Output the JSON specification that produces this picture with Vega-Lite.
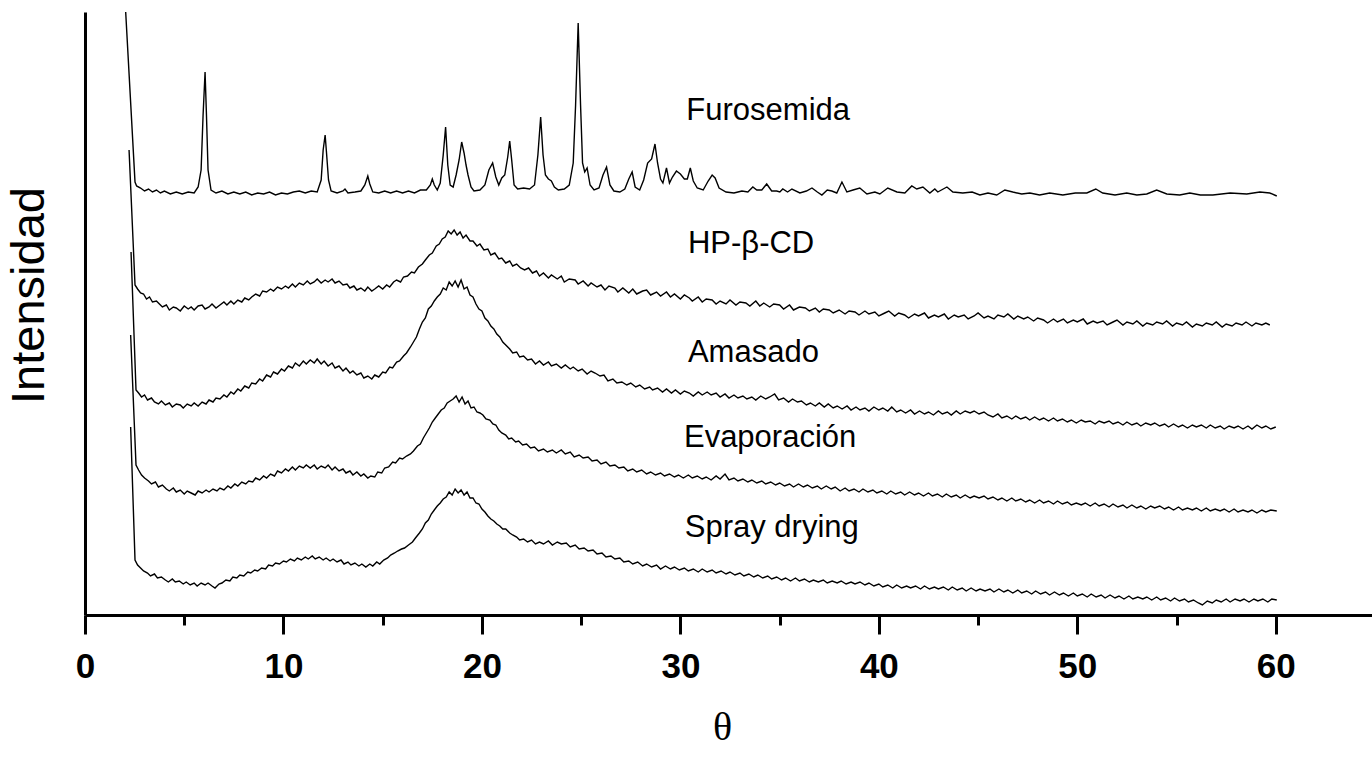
{
"$schema": "https://vega.github.io/schema/vega-lite/v6.json",
"width": 1290, "height": 603,
"autosize": {"type": "none"},
"padding": {"left": 85, "top": 12, "right": 0, "bottom": 151},
"config": {"view": {"stroke": null}, "axis": {"grid": false}},
"datasets": {
"labels": [
{"label":"Furosemida","x":30.3,"y":495},
{"label":"HP-β-CD","x":30.38,"y":362},
{"label":"Amasado","x":30.38,"y":253},
{"label":"Evaporación","x":30.18,"y":168},
{"label":"Spray drying","x":30.22,"y":78}
],
"traces": [
{"s":"F","x":2.0,"y":621},{"s":"F","x":2.52,"y":433},{"s":"F","x":2.6,"y":429},{"s":"F","x":2.8,"y":427},{"s":"F","x":3.0,"y":424},{"s":"F","x":3.2,"y":426},{"s":"F","x":3.4,"y":423},{"s":"F","x":3.6,"y":425},{"s":"F","x":3.8,"y":422},{"s":"F","x":4.0,"y":424},{"s":"F","x":4.3,"y":421},{"s":"F","x":4.6,"y":423},{"s":"F","x":4.9,"y":421},{"s":"F","x":5.2,"y":423},{"s":"F","x":5.5,"y":422},{"s":"F","x":5.7,"y":428},{"s":"F","x":5.85,"y":445},{"s":"F","x":5.95,"y":500},{"s":"F","x":6.05,"y":543},{"s":"F","x":6.12,"y":500},{"s":"F","x":6.2,"y":445},{"s":"F","x":6.35,"y":425},{"s":"F","x":6.6,"y":422},{"s":"F","x":6.9,"y":424},{"s":"F","x":7.2,"y":421},{"s":"F","x":7.5,"y":423},{"s":"F","x":7.8,"y":421},{"s":"F","x":8.1,"y":423},{"s":"F","x":8.4,"y":420},{"s":"F","x":8.7,"y":422},{"s":"F","x":9.0,"y":421},{"s":"F","x":9.3,"y":423},{"s":"F","x":9.6,"y":420},{"s":"F","x":9.9,"y":422},{"s":"F","x":10.2,"y":421},{"s":"F","x":10.5,"y":423},{"s":"F","x":10.8,"y":424},{"s":"F","x":11.1,"y":422},{"s":"F","x":11.4,"y":424},{"s":"F","x":11.7,"y":423},{"s":"F","x":11.9,"y":435},{"s":"F","x":12.0,"y":465},{"s":"F","x":12.1,"y":480},{"s":"F","x":12.17,"y":462},{"s":"F","x":12.27,"y":435},{"s":"F","x":12.4,"y":424},{"s":"F","x":12.7,"y":422},{"s":"F","x":13.0,"y":424},{"s":"F","x":13.1,"y":426},{"s":"F","x":13.25,"y":422},{"s":"F","x":13.6,"y":423},{"s":"F","x":13.9,"y":424},{"s":"F","x":14.1,"y":430},{"s":"F","x":14.25,"y":439},{"s":"F","x":14.35,"y":431},{"s":"F","x":14.5,"y":423},{"s":"F","x":14.8,"y":422},{"s":"F","x":15.1,"y":424},{"s":"F","x":15.4,"y":422},{"s":"F","x":15.7,"y":424},{"s":"F","x":16.0,"y":422},{"s":"F","x":16.3,"y":424},{"s":"F","x":16.6,"y":422},{"s":"F","x":16.9,"y":425},{"s":"F","x":17.2,"y":425},{"s":"F","x":17.4,"y":430},{"s":"F","x":17.5,"y":436},{"s":"F","x":17.6,"y":430},{"s":"F","x":17.75,"y":425},{"s":"F","x":17.9,"y":432},{"s":"F","x":18.05,"y":460},{"s":"F","x":18.17,"y":488},{"s":"F","x":18.28,"y":450},{"s":"F","x":18.4,"y":430},{"s":"F","x":18.55,"y":428},{"s":"F","x":18.7,"y":440},{"s":"F","x":18.85,"y":455},{"s":"F","x":18.98,"y":473},{"s":"F","x":19.1,"y":462},{"s":"F","x":19.2,"y":450},{"s":"F","x":19.3,"y":440},{"s":"F","x":19.45,"y":428},{"s":"F","x":19.6,"y":424},{"s":"F","x":19.9,"y":425},{"s":"F","x":20.15,"y":430},{"s":"F","x":20.35,"y":445},{"s":"F","x":20.54,"y":452},{"s":"F","x":20.7,"y":438},{"s":"F","x":20.85,"y":430},{"s":"F","x":21.0,"y":437},{"s":"F","x":21.15,"y":440},{"s":"F","x":21.3,"y":458},{"s":"F","x":21.4,"y":474},{"s":"F","x":21.5,"y":455},{"s":"F","x":21.62,"y":430},{"s":"F","x":21.8,"y":426},{"s":"F","x":22.1,"y":427},{"s":"F","x":22.4,"y":426},{"s":"F","x":22.65,"y":430},{"s":"F","x":22.82,"y":460},{"s":"F","x":22.96,"y":498},{"s":"F","x":23.08,"y":460},{"s":"F","x":23.2,"y":440},{"s":"F","x":23.35,"y":436},{"s":"F","x":23.5,"y":434},{"s":"F","x":23.65,"y":428},{"s":"F","x":23.85,"y":425},{"s":"F","x":24.15,"y":426},{"s":"F","x":24.4,"y":430},{"s":"F","x":24.6,"y":452},{"s":"F","x":24.72,"y":510},{"s":"F","x":24.85,"y":592},{"s":"F","x":24.97,"y":510},{"s":"F","x":25.07,"y":452},{"s":"F","x":25.18,"y":443},{"s":"F","x":25.3,"y":447},{"s":"F","x":25.45,"y":430},{"s":"F","x":25.65,"y":425},{"s":"F","x":25.9,"y":427},{"s":"F","x":26.1,"y":440},{"s":"F","x":26.28,"y":448},{"s":"F","x":26.45,"y":430},{"s":"F","x":26.65,"y":424},{"s":"F","x":26.95,"y":423},{"s":"F","x":27.2,"y":426},{"s":"F","x":27.4,"y":436},{"s":"F","x":27.57,"y":443},{"s":"F","x":27.72,"y":428},{"s":"F","x":27.95,"y":425},{"s":"F","x":28.15,"y":435},{"s":"F","x":28.35,"y":452},{"s":"F","x":28.55,"y":456},{"s":"F","x":28.72,"y":471},{"s":"F","x":28.85,"y":452},{"s":"F","x":29.0,"y":436},{"s":"F","x":29.12,"y":432},{"s":"F","x":29.3,"y":447},{"s":"F","x":29.45,"y":432},{"s":"F","x":29.6,"y":438},{"s":"F","x":29.8,"y":444},{"s":"F","x":30.0,"y":441},{"s":"F","x":30.2,"y":436},{"s":"F","x":30.35,"y":436},{"s":"F","x":30.5,"y":447},{"s":"F","x":30.65,"y":434},{"s":"F","x":30.85,"y":427},{"s":"F","x":31.15,"y":425},{"s":"F","x":31.4,"y":434},{"s":"F","x":31.6,"y":440},{"s":"F","x":31.75,"y":437},{"s":"F","x":31.95,"y":427},{"s":"F","x":32.3,"y":423},{"s":"F","x":32.7,"y":422},{"s":"F","x":33.1,"y":424},{"s":"F","x":33.4,"y":423},{"s":"F","x":33.65,"y":428},{"s":"F","x":33.85,"y":425},{"s":"F","x":34.1,"y":425},{"s":"F","x":34.35,"y":431},{"s":"F","x":34.6,"y":424},{"s":"F","x":34.85,"y":424},{"s":"F","x":35.01,"y":423},{"s":"F","x":35.16,"y":426},{"s":"F","x":35.4,"y":423},{"s":"F","x":35.62,"y":426},{"s":"F","x":36.02,"y":422},{"s":"F","x":36.35,"y":424},{"s":"F","x":36.63,"y":427},{"s":"F","x":36.9,"y":423},{"s":"F","x":37.13,"y":420},{"s":"F","x":37.4,"y":425},{"s":"F","x":37.63,"y":424},{"s":"F","x":37.88,"y":422},{"s":"F","x":38.14,"y":433},{"s":"F","x":38.39,"y":423},{"s":"F","x":38.7,"y":425},{"s":"F","x":39.04,"y":427},{"s":"F","x":39.4,"y":421},{"s":"F","x":39.8,"y":423},{"s":"F","x":40.05,"y":421},{"s":"F","x":40.45,"y":427},{"s":"F","x":40.91,"y":423},{"s":"F","x":41.31,"y":422},{"s":"F","x":41.66,"y":429},{"s":"F","x":41.91,"y":426},{"s":"F","x":42.22,"y":428},{"s":"F","x":42.57,"y":422},{"s":"F","x":42.82,"y":426},{"s":"F","x":42.97,"y":423},{"s":"F","x":43.43,"y":428},{"s":"F","x":43.73,"y":423},{"s":"F","x":44.23,"y":422},{"s":"F","x":44.7,"y":423},{"s":"F","x":45.09,"y":420},{"s":"F","x":45.5,"y":422},{"s":"F","x":45.94,"y":420},{"s":"F","x":46.35,"y":425},{"s":"F","x":46.75,"y":423},{"s":"F","x":47.2,"y":421},{"s":"F","x":47.61,"y":422},{"s":"F","x":48.1,"y":420},{"s":"F","x":48.61,"y":422},{"s":"F","x":49.27,"y":420},{"s":"F","x":49.9,"y":422},{"s":"F","x":50.48,"y":422},{"s":"F","x":50.93,"y":426},{"s":"F","x":51.28,"y":422},{"s":"F","x":51.9,"y":420},{"s":"F","x":52.49,"y":422},{"s":"F","x":53.0,"y":420},{"s":"F","x":53.5,"y":421},{"s":"F","x":54.0,"y":425},{"s":"F","x":54.51,"y":421},{"s":"F","x":55.16,"y":420},{"s":"F","x":55.67,"y":422},{"s":"F","x":56.2,"y":420},{"s":"F","x":56.83,"y":420},{"s":"F","x":57.7,"y":422},{"s":"F","x":58.54,"y":421},{"s":"F","x":59.2,"y":423},{"s":"F","x":59.7,"y":422},{"s":"F","x":60.05,"y":419},
{"s":"H","x":2.22,"y":465},{"s":"H","x":2.52,"y":330},{"s":"H","x":2.65,"y":326},{"s":"H","x":2.8,"y":322},{"s":"H","x":2.95,"y":321},{"s":"H","x":3.1,"y":316},{"s":"H","x":3.25,"y":318},{"s":"H","x":3.4,"y":313},{"s":"H","x":3.6,"y":314},{"s":"H","x":3.75,"y":311},{"s":"H","x":3.9,"y":308},{"s":"H","x":4.1,"y":310},{"s":"H","x":4.25,"y":305},{"s":"H","x":4.45,"y":308},{"s":"H","x":4.6,"y":307},{"s":"H","x":4.8,"y":304},{"s":"H","x":5.0,"y":309},{"s":"H","x":5.2,"y":306},{"s":"H","x":5.35,"y":308},{"s":"H","x":5.5,"y":305},{"s":"H","x":5.7,"y":309},{"s":"H","x":5.9,"y":310},{"s":"H","x":6.05,"y":306},{"s":"H","x":6.25,"y":308},{"s":"H","x":6.4,"y":311},{"s":"H","x":6.6,"y":307},{"s":"H","x":6.8,"y":310},{"s":"H","x":7.0,"y":313},{"s":"H","x":7.15,"y":310},{"s":"H","x":7.35,"y":314},{"s":"H","x":7.5,"y":311},{"s":"H","x":7.7,"y":315},{"s":"H","x":7.9,"y":313},{"s":"H","x":8.05,"y":317},{"s":"H","x":8.25,"y":315},{"s":"H","x":8.4,"y":318},{"s":"H","x":8.6,"y":321},{"s":"H","x":8.8,"y":319},{"s":"H","x":8.95,"y":324},{"s":"H","x":9.15,"y":323},{"s":"H","x":9.35,"y":326},{"s":"H","x":9.5,"y":324},{"s":"H","x":9.7,"y":328},{"s":"H","x":9.9,"y":326},{"s":"H","x":10.1,"y":329},{"s":"H","x":10.25,"y":327},{"s":"H","x":10.45,"y":331},{"s":"H","x":10.6,"y":328},{"s":"H","x":10.8,"y":332},{"s":"H","x":11.0,"y":330},{"s":"H","x":11.2,"y":334},{"s":"H","x":11.35,"y":331},{"s":"H","x":11.55,"y":333},{"s":"H","x":11.7,"y":336},{"s":"H","x":11.9,"y":332},{"s":"H","x":12.1,"y":335},{"s":"H","x":12.25,"y":333},{"s":"H","x":12.45,"y":336},{"s":"H","x":12.6,"y":332},{"s":"H","x":12.8,"y":334},{"s":"H","x":13.0,"y":330},{"s":"H","x":13.2,"y":331},{"s":"H","x":13.35,"y":327},{"s":"H","x":13.55,"y":329},{"s":"H","x":13.7,"y":325},{"s":"H","x":13.9,"y":327},{"s":"H","x":14.1,"y":324},{"s":"H","x":14.25,"y":328},{"s":"H","x":14.45,"y":324},{"s":"H","x":14.6,"y":326},{"s":"H","x":14.8,"y":329},{"s":"H","x":15.0,"y":326},{"s":"H","x":15.2,"y":330},{"s":"H","x":15.35,"y":328},{"s":"H","x":15.55,"y":333},{"s":"H","x":15.7,"y":335},{"s":"H","x":15.9,"y":333},{"s":"H","x":16.05,"y":338},{"s":"H","x":16.25,"y":339},{"s":"H","x":16.45,"y":343},{"s":"H","x":16.6,"y":342},{"s":"H","x":16.8,"y":348},{"s":"H","x":17.0,"y":351},{"s":"H","x":17.15,"y":355},{"s":"H","x":17.35,"y":360},{"s":"H","x":17.5,"y":362},{"s":"H","x":17.7,"y":369},{"s":"H","x":17.85,"y":371},{"s":"H","x":18.0,"y":376},{"s":"H","x":18.15,"y":378},{"s":"H","x":18.3,"y":384},{"s":"H","x":18.45,"y":381},{"s":"H","x":18.6,"y":385},{"s":"H","x":18.75,"y":380},{"s":"H","x":18.9,"y":383},{"s":"H","x":19.05,"y":377},{"s":"H","x":19.2,"y":380},{"s":"H","x":19.4,"y":374},{"s":"H","x":19.55,"y":374},{"s":"H","x":19.75,"y":369},{"s":"H","x":19.9,"y":371},{"s":"H","x":20.1,"y":365},{"s":"H","x":20.3,"y":366},{"s":"H","x":20.45,"y":360},{"s":"H","x":20.65,"y":362},{"s":"H","x":20.85,"y":356},{"s":"H","x":21.0,"y":357},{"s":"H","x":21.2,"y":352},{"s":"H","x":21.4,"y":354},{"s":"H","x":21.55,"y":349},{"s":"H","x":21.75,"y":351},{"s":"H","x":21.95,"y":347},{"s":"H","x":22.15,"y":345},{"s":"H","x":22.35,"y":347},{"s":"H","x":22.55,"y":342},{"s":"H","x":22.75,"y":344},{"s":"H","x":22.9,"y":339},{"s":"H","x":23.1,"y":342},{"s":"H","x":23.35,"y":337},{"s":"H","x":23.5,"y":340},{"s":"H","x":23.8,"y":336},{"s":"H","x":24.0,"y":339},{"s":"H","x":24.15,"y":333},{"s":"H","x":24.4,"y":336},{"s":"H","x":24.7,"y":335},{"s":"H","x":24.85,"y":331},{"s":"H","x":25.1,"y":334},{"s":"H","x":25.35,"y":329},{"s":"H","x":25.5,"y":332},{"s":"H","x":25.8,"y":328},{"s":"H","x":26.0,"y":330},{"s":"H","x":26.2,"y":325},{"s":"H","x":26.4,"y":329},{"s":"H","x":26.7,"y":327},{"s":"H","x":26.85,"y":323},{"s":"H","x":27.1,"y":327},{"s":"H","x":27.4,"y":322},{"s":"H","x":27.6,"y":326},{"s":"H","x":27.8,"y":321},{"s":"H","x":28.1,"y":324},{"s":"H","x":28.3,"y":325},{"s":"H","x":28.5,"y":320},{"s":"H","x":28.8,"y":323},{"s":"H","x":29.0,"y":319},{"s":"H","x":29.3,"y":323},{"s":"H","x":29.5,"y":318},{"s":"H","x":29.7,"y":321},{"s":"H","x":30.0,"y":316},{"s":"H","x":30.2,"y":320},{"s":"H","x":30.45,"y":317},{"s":"H","x":30.6,"y":314},{"s":"H","x":30.9,"y":318},{"s":"H","x":31.1,"y":313},{"s":"H","x":31.3,"y":316},{"s":"H","x":31.6,"y":315},{"s":"H","x":31.8,"y":311},{"s":"H","x":32.0,"y":314},{"s":"H","x":32.3,"y":311},{"s":"H","x":32.5,"y":315},{"s":"H","x":32.8,"y":310},{"s":"H","x":33.0,"y":313},{"s":"H","x":33.3,"y":312},{"s":"H","x":33.5,"y":309},{"s":"H","x":33.8,"y":314},{"s":"H","x":34.0,"y":309},{"s":"H","x":34.2,"y":312},{"s":"H","x":34.5,"y":308},{"s":"H","x":34.7,"y":311},{"s":"H","x":35.0,"y":310},{"s":"H","x":35.2,"y":306},{"s":"H","x":35.5,"y":310},{"s":"H","x":35.7,"y":305},{"s":"H","x":36.0,"y":308},{"s":"H","x":36.3,"y":307},{"s":"H","x":36.5,"y":304},{"s":"H","x":36.8,"y":307},{"s":"H","x":37.0,"y":303},{"s":"H","x":37.2,"y":306},{"s":"H","x":37.5,"y":305},{"s":"H","x":37.7,"y":302},{"s":"H","x":38.0,"y":305},{"s":"H","x":38.3,"y":301},{"s":"H","x":38.5,"y":304},{"s":"H","x":38.8,"y":303},{"s":"H","x":39.0,"y":300},{"s":"H","x":39.3,"y":304},{"s":"H","x":39.5,"y":301},{"s":"H","x":39.8,"y":303},{"s":"H","x":40.0,"y":299},{"s":"H","x":40.3,"y":302},{"s":"H","x":40.5,"y":304},{"s":"H","x":40.8,"y":299},{"s":"H","x":41.0,"y":302},{"s":"H","x":41.3,"y":300},{"s":"H","x":41.5,"y":297},{"s":"H","x":41.8,"y":301},{"s":"H","x":42.0,"y":299},{"s":"H","x":42.3,"y":302},{"s":"H","x":42.5,"y":297},{"s":"H","x":42.8,"y":300},{"s":"H","x":43.0,"y":298},{"s":"H","x":43.3,"y":301},{"s":"H","x":43.5,"y":296},{"s":"H","x":43.8,"y":300},{"s":"H","x":44.0,"y":298},{"s":"H","x":44.3,"y":300},{"s":"H","x":44.5,"y":296},{"s":"H","x":44.8,"y":299},{"s":"H","x":45.0,"y":302},{"s":"H","x":45.3,"y":297},{"s":"H","x":45.5,"y":299},{"s":"H","x":45.8,"y":296},{"s":"H","x":46.0,"y":300},{"s":"H","x":46.3,"y":298},{"s":"H","x":46.5,"y":301},{"s":"H","x":46.8,"y":296},{"s":"H","x":47.0,"y":299},{"s":"H","x":47.3,"y":296},{"s":"H","x":47.5,"y":298},{"s":"H","x":47.8,"y":294},{"s":"H","x":48.0,"y":297},{"s":"H","x":48.3,"y":295},{"s":"H","x":48.5,"y":292},{"s":"H","x":48.8,"y":296},{"s":"H","x":49.0,"y":293},{"s":"H","x":49.3,"y":296},{"s":"H","x":49.5,"y":292},{"s":"H","x":49.8,"y":295},{"s":"H","x":50.0,"y":293},{"s":"H","x":50.3,"y":296},{"s":"H","x":50.5,"y":291},{"s":"H","x":50.8,"y":294},{"s":"H","x":51.0,"y":292},{"s":"H","x":51.3,"y":294},{"s":"H","x":51.5,"y":290},{"s":"H","x":51.8,"y":293},{"s":"H","x":52.0,"y":295},{"s":"H","x":52.3,"y":290},{"s":"H","x":52.5,"y":293},{"s":"H","x":52.8,"y":291},{"s":"H","x":53.0,"y":294},{"s":"H","x":53.3,"y":289},{"s":"H","x":53.5,"y":292},{"s":"H","x":53.8,"y":290},{"s":"H","x":54.0,"y":293},{"s":"H","x":54.3,"y":291},{"s":"H","x":54.5,"y":294},{"s":"H","x":54.8,"y":289},{"s":"H","x":55.0,"y":292},{"s":"H","x":55.3,"y":290},{"s":"H","x":55.5,"y":293},{"s":"H","x":55.8,"y":288},{"s":"H","x":56.0,"y":291},{"s":"H","x":56.3,"y":289},{"s":"H","x":56.5,"y":292},{"s":"H","x":56.8,"y":290},{"s":"H","x":57.0,"y":293},{"s":"H","x":57.3,"y":288},{"s":"H","x":57.5,"y":291},{"s":"H","x":57.8,"y":289},{"s":"H","x":58.0,"y":292},{"s":"H","x":58.3,"y":290},{"s":"H","x":58.5,"y":293},{"s":"H","x":58.8,"y":289},{"s":"H","x":59.0,"y":292},{"s":"H","x":59.3,"y":290},{"s":"H","x":59.5,"y":292},{"s":"H","x":59.7,"y":290},
{"s":"A","x":2.32,"y":363},{"s":"A","x":2.57,"y":225},{"s":"A","x":2.7,"y":222},{"s":"A","x":2.85,"y":218},{"s":"A","x":3.0,"y":220},{"s":"A","x":3.15,"y":215},{"s":"A","x":3.35,"y":217},{"s":"A","x":3.5,"y":213},{"s":"A","x":3.7,"y":211},{"s":"A","x":3.85,"y":214},{"s":"A","x":4.05,"y":210},{"s":"A","x":4.25,"y":212},{"s":"A","x":4.4,"y":208},{"s":"A","x":4.6,"y":211},{"s":"A","x":4.8,"y":210},{"s":"A","x":4.95,"y":207},{"s":"A","x":5.15,"y":211},{"s":"A","x":5.35,"y":209},{"s":"A","x":5.5,"y":212},{"s":"A","x":5.7,"y":209},{"s":"A","x":5.9,"y":213},{"s":"A","x":6.1,"y":211},{"s":"A","x":6.25,"y":215},{"s":"A","x":6.45,"y":213},{"s":"A","x":6.6,"y":217},{"s":"A","x":6.8,"y":216},{"s":"A","x":7.0,"y":220},{"s":"A","x":7.15,"y":218},{"s":"A","x":7.35,"y":223},{"s":"A","x":7.5,"y":221},{"s":"A","x":7.7,"y":226},{"s":"A","x":7.85,"y":224},{"s":"A","x":8.05,"y":229},{"s":"A","x":8.25,"y":227},{"s":"A","x":8.4,"y":232},{"s":"A","x":8.6,"y":231},{"s":"A","x":8.8,"y":236},{"s":"A","x":8.95,"y":234},{"s":"A","x":9.15,"y":240},{"s":"A","x":9.35,"y":238},{"s":"A","x":9.5,"y":243},{"s":"A","x":9.7,"y":241},{"s":"A","x":9.9,"y":246},{"s":"A","x":10.05,"y":244},{"s":"A","x":10.25,"y":249},{"s":"A","x":10.45,"y":247},{"s":"A","x":10.6,"y":252},{"s":"A","x":10.8,"y":249},{"s":"A","x":11.0,"y":254},{"s":"A","x":11.15,"y":251},{"s":"A","x":11.35,"y":255},{"s":"A","x":11.55,"y":252},{"s":"A","x":11.7,"y":256},{"s":"A","x":11.9,"y":251},{"s":"A","x":12.05,"y":254},{"s":"A","x":12.25,"y":249},{"s":"A","x":12.45,"y":252},{"s":"A","x":12.6,"y":247},{"s":"A","x":12.8,"y":249},{"s":"A","x":13.0,"y":244},{"s":"A","x":13.15,"y":247},{"s":"A","x":13.35,"y":242},{"s":"A","x":13.5,"y":244},{"s":"A","x":13.7,"y":240},{"s":"A","x":13.9,"y":242},{"s":"A","x":14.05,"y":237},{"s":"A","x":14.25,"y":239},{"s":"A","x":14.45,"y":236},{"s":"A","x":14.6,"y":240},{"s":"A","x":14.8,"y":238},{"s":"A","x":15.0,"y":243},{"s":"A","x":15.15,"y":242},{"s":"A","x":15.35,"y":248},{"s":"A","x":15.5,"y":247},{"s":"A","x":15.7,"y":253},{"s":"A","x":15.85,"y":254},{"s":"A","x":16.05,"y":259},{"s":"A","x":16.2,"y":262},{"s":"A","x":16.4,"y":268},{"s":"A","x":16.55,"y":273},{"s":"A","x":16.7,"y":278},{"s":"A","x":16.85,"y":286},{"s":"A","x":17.0,"y":293},{"s":"A","x":17.15,"y":297},{"s":"A","x":17.3,"y":306},{"s":"A","x":17.45,"y":309},{"s":"A","x":17.6,"y":314},{"s":"A","x":17.75,"y":318},{"s":"A","x":17.9,"y":321},{"s":"A","x":18.05,"y":327},{"s":"A","x":18.2,"y":325},{"s":"A","x":18.35,"y":333},{"s":"A","x":18.5,"y":329},{"s":"A","x":18.65,"y":334},{"s":"A","x":18.8,"y":328},{"s":"A","x":18.95,"y":335},{"s":"A","x":19.1,"y":326},{"s":"A","x":19.25,"y":328},{"s":"A","x":19.4,"y":320},{"s":"A","x":19.55,"y":318},{"s":"A","x":19.7,"y":311},{"s":"A","x":19.85,"y":306},{"s":"A","x":20.0,"y":304},{"s":"A","x":20.15,"y":297},{"s":"A","x":20.3,"y":294},{"s":"A","x":20.45,"y":289},{"s":"A","x":20.6,"y":286},{"s":"A","x":20.75,"y":281},{"s":"A","x":20.9,"y":278},{"s":"A","x":21.05,"y":273},{"s":"A","x":21.2,"y":270},{"s":"A","x":21.4,"y":266},{"s":"A","x":21.55,"y":262},{"s":"A","x":21.75,"y":263},{"s":"A","x":21.9,"y":258},{"s":"A","x":22.1,"y":259},{"s":"A","x":22.3,"y":255},{"s":"A","x":22.5,"y":256},{"s":"A","x":22.7,"y":251},{"s":"A","x":22.9,"y":254},{"s":"A","x":23.1,"y":250},{"s":"A","x":23.35,"y":253},{"s":"A","x":23.5,"y":249},{"s":"A","x":23.75,"y":251},{"s":"A","x":24.0,"y":247},{"s":"A","x":24.2,"y":250},{"s":"A","x":24.45,"y":246},{"s":"A","x":24.6,"y":248},{"s":"A","x":24.85,"y":244},{"s":"A","x":25.05,"y":246},{"s":"A","x":25.3,"y":241},{"s":"A","x":25.5,"y":244},{"s":"A","x":25.7,"y":242},{"s":"A","x":25.95,"y":239},{"s":"A","x":26.15,"y":240},{"s":"A","x":26.35,"y":234},{"s":"A","x":26.6,"y":236},{"s":"A","x":26.8,"y":232},{"s":"A","x":27.05,"y":233},{"s":"A","x":27.3,"y":230},{"s":"A","x":27.5,"y":232},{"s":"A","x":27.75,"y":228},{"s":"A","x":27.95,"y":230},{"s":"A","x":28.2,"y":226},{"s":"A","x":28.45,"y":228},{"s":"A","x":28.6,"y":225},{"s":"A","x":28.85,"y":227},{"s":"A","x":29.1,"y":223},{"s":"A","x":29.3,"y":226},{"s":"A","x":29.55,"y":222},{"s":"A","x":29.75,"y":225},{"s":"A","x":30.0,"y":221},{"s":"A","x":30.2,"y":224},{"s":"A","x":30.45,"y":222},{"s":"A","x":30.65,"y":219},{"s":"A","x":30.9,"y":223},{"s":"A","x":31.1,"y":220},{"s":"A","x":31.35,"y":223},{"s":"A","x":31.55,"y":220},{"s":"A","x":31.8,"y":222},{"s":"A","x":32.0,"y":218},{"s":"A","x":32.25,"y":221},{"s":"A","x":32.45,"y":217},{"s":"A","x":32.7,"y":220},{"s":"A","x":32.9,"y":217},{"s":"A","x":33.15,"y":219},{"s":"A","x":33.35,"y":216},{"s":"A","x":33.6,"y":218},{"s":"A","x":33.8,"y":215},{"s":"A","x":34.05,"y":219},{"s":"A","x":34.3,"y":216},{"s":"A","x":34.5,"y":218},{"s":"A","x":34.75,"y":221},{"s":"A","x":34.95,"y":215},{"s":"A","x":35.2,"y":217},{"s":"A","x":35.45,"y":213},{"s":"A","x":35.65,"y":216},{"s":"A","x":35.9,"y":213},{"s":"A","x":36.1,"y":214},{"s":"A","x":36.35,"y":210},{"s":"A","x":36.55,"y":212},{"s":"A","x":36.8,"y":209},{"s":"A","x":37.0,"y":212},{"s":"A","x":37.25,"y":208},{"s":"A","x":37.45,"y":211},{"s":"A","x":37.7,"y":207},{"s":"A","x":37.9,"y":209},{"s":"A","x":38.15,"y":206},{"s":"A","x":38.4,"y":209},{"s":"A","x":38.6,"y":205},{"s":"A","x":38.85,"y":208},{"s":"A","x":39.05,"y":205},{"s":"A","x":39.3,"y":207},{"s":"A","x":39.5,"y":204},{"s":"A","x":39.75,"y":208},{"s":"A","x":40.0,"y":205},{"s":"A","x":40.2,"y":207},{"s":"A","x":40.45,"y":204},{"s":"A","x":40.65,"y":208},{"s":"A","x":40.9,"y":203},{"s":"A","x":41.1,"y":205},{"s":"A","x":41.35,"y":202},{"s":"A","x":41.6,"y":205},{"s":"A","x":41.8,"y":201},{"s":"A","x":42.05,"y":204},{"s":"A","x":42.3,"y":201},{"s":"A","x":42.5,"y":203},{"s":"A","x":42.75,"y":200},{"s":"A","x":43.0,"y":204},{"s":"A","x":43.2,"y":201},{"s":"A","x":43.45,"y":203},{"s":"A","x":43.65,"y":200},{"s":"A","x":43.9,"y":204},{"s":"A","x":44.1,"y":201},{"s":"A","x":44.35,"y":204},{"s":"A","x":44.6,"y":202},{"s":"A","x":44.8,"y":204},{"s":"A","x":45.05,"y":201},{"s":"A","x":45.3,"y":203},{"s":"A","x":45.5,"y":200},{"s":"A","x":45.75,"y":198},{"s":"A","x":46.0,"y":201},{"s":"A","x":46.2,"y":197},{"s":"A","x":46.45,"y":199},{"s":"A","x":46.7,"y":196},{"s":"A","x":46.9,"y":199},{"s":"A","x":47.15,"y":196},{"s":"A","x":47.4,"y":198},{"s":"A","x":47.6,"y":195},{"s":"A","x":47.85,"y":198},{"s":"A","x":48.1,"y":195},{"s":"A","x":48.3,"y":197},{"s":"A","x":48.55,"y":194},{"s":"A","x":48.8,"y":197},{"s":"A","x":49.0,"y":194},{"s":"A","x":49.25,"y":196},{"s":"A","x":49.5,"y":193},{"s":"A","x":49.7,"y":195},{"s":"A","x":49.95,"y":192},{"s":"A","x":50.2,"y":195},{"s":"A","x":50.4,"y":193},{"s":"A","x":50.65,"y":194},{"s":"A","x":50.9,"y":191},{"s":"A","x":51.1,"y":194},{"s":"A","x":51.35,"y":192},{"s":"A","x":51.6,"y":194},{"s":"A","x":51.8,"y":191},{"s":"A","x":52.05,"y":193},{"s":"A","x":52.3,"y":190},{"s":"A","x":52.5,"y":193},{"s":"A","x":52.75,"y":190},{"s":"A","x":53.0,"y":192},{"s":"A","x":53.2,"y":189},{"s":"A","x":53.45,"y":192},{"s":"A","x":53.7,"y":190},{"s":"A","x":53.9,"y":192},{"s":"A","x":54.15,"y":189},{"s":"A","x":54.4,"y":191},{"s":"A","x":54.6,"y":188},{"s":"A","x":54.85,"y":191},{"s":"A","x":55.1,"y":188},{"s":"A","x":55.3,"y":190},{"s":"A","x":55.55,"y":187},{"s":"A","x":55.8,"y":190},{"s":"A","x":56.0,"y":188},{"s":"A","x":56.25,"y":190},{"s":"A","x":56.5,"y":187},{"s":"A","x":56.7,"y":190},{"s":"A","x":56.95,"y":187},{"s":"A","x":57.2,"y":189},{"s":"A","x":57.4,"y":186},{"s":"A","x":57.65,"y":189},{"s":"A","x":57.9,"y":187},{"s":"A","x":58.1,"y":189},{"s":"A","x":58.35,"y":186},{"s":"A","x":58.6,"y":189},{"s":"A","x":58.8,"y":186},{"s":"A","x":59.05,"y":190},{"s":"A","x":59.3,"y":187},{"s":"A","x":59.5,"y":189},{"s":"A","x":59.75,"y":186},{"s":"A","x":60.0,"y":188},
{"s":"E","x":2.3,"y":280},{"s":"E","x":2.57,"y":150},{"s":"E","x":2.7,"y":145},{"s":"E","x":2.85,"y":140},{"s":"E","x":3.0,"y":137},{"s":"E","x":3.2,"y":134},{"s":"E","x":3.35,"y":131},{"s":"E","x":3.55,"y":133},{"s":"E","x":3.7,"y":128},{"s":"E","x":3.9,"y":130},{"s":"E","x":4.1,"y":126},{"s":"E","x":4.25,"y":124},{"s":"E","x":4.45,"y":127},{"s":"E","x":4.6,"y":123},{"s":"E","x":4.8,"y":125},{"s":"E","x":5.0,"y":121},{"s":"E","x":5.15,"y":124},{"s":"E","x":5.35,"y":122},{"s":"E","x":5.55,"y":120},{"s":"E","x":5.7,"y":124},{"s":"E","x":5.9,"y":122},{"s":"E","x":6.1,"y":125},{"s":"E","x":6.25,"y":123},{"s":"E","x":6.45,"y":126},{"s":"E","x":6.65,"y":124},{"s":"E","x":6.8,"y":127},{"s":"E","x":7.0,"y":125},{"s":"E","x":7.2,"y":129},{"s":"E","x":7.35,"y":127},{"s":"E","x":7.55,"y":131},{"s":"E","x":7.7,"y":129},{"s":"E","x":7.9,"y":133},{"s":"E","x":8.1,"y":131},{"s":"E","x":8.25,"y":134},{"s":"E","x":8.45,"y":133},{"s":"E","x":8.6,"y":137},{"s":"E","x":8.8,"y":135},{"s":"E","x":9.0,"y":139},{"s":"E","x":9.15,"y":137},{"s":"E","x":9.35,"y":141},{"s":"E","x":9.55,"y":139},{"s":"E","x":9.7,"y":144},{"s":"E","x":9.9,"y":142},{"s":"E","x":10.1,"y":146},{"s":"E","x":10.25,"y":144},{"s":"E","x":10.45,"y":148},{"s":"E","x":10.6,"y":145},{"s":"E","x":10.8,"y":149},{"s":"E","x":11.0,"y":147},{"s":"E","x":11.15,"y":150},{"s":"E","x":11.35,"y":147},{"s":"E","x":11.55,"y":150},{"s":"E","x":11.7,"y":146},{"s":"E","x":11.9,"y":149},{"s":"E","x":12.1,"y":147},{"s":"E","x":12.25,"y":150},{"s":"E","x":12.45,"y":145},{"s":"E","x":12.6,"y":148},{"s":"E","x":12.8,"y":144},{"s":"E","x":13.0,"y":146},{"s":"E","x":13.15,"y":142},{"s":"E","x":13.35,"y":144},{"s":"E","x":13.5,"y":140},{"s":"E","x":13.7,"y":143},{"s":"E","x":13.9,"y":139},{"s":"E","x":14.05,"y":141},{"s":"E","x":14.25,"y":137},{"s":"E","x":14.4,"y":139},{"s":"E","x":14.6,"y":138},{"s":"E","x":14.75,"y":143},{"s":"E","x":14.95,"y":142},{"s":"E","x":15.1,"y":147},{"s":"E","x":15.3,"y":148},{"s":"E","x":15.5,"y":153},{"s":"E","x":15.65,"y":152},{"s":"E","x":15.85,"y":157},{"s":"E","x":16.0,"y":156},{"s":"E","x":16.2,"y":159},{"s":"E","x":16.4,"y":161},{"s":"E","x":16.55,"y":164},{"s":"E","x":16.75,"y":169},{"s":"E","x":16.9,"y":171},{"s":"E","x":17.05,"y":177},{"s":"E","x":17.2,"y":182},{"s":"E","x":17.35,"y":187},{"s":"E","x":17.5,"y":193},{"s":"E","x":17.65,"y":197},{"s":"E","x":17.8,"y":201},{"s":"E","x":17.95,"y":205},{"s":"E","x":18.1,"y":207},{"s":"E","x":18.25,"y":212},{"s":"E","x":18.4,"y":214},{"s":"E","x":18.55,"y":216},{"s":"E","x":18.7,"y":219},{"s":"E","x":18.85,"y":213},{"s":"E","x":19.0,"y":218},{"s":"E","x":19.15,"y":211},{"s":"E","x":19.3,"y":214},{"s":"E","x":19.45,"y":207},{"s":"E","x":19.6,"y":208},{"s":"E","x":19.75,"y":203},{"s":"E","x":19.9,"y":202},{"s":"E","x":20.05,"y":200},{"s":"E","x":20.2,"y":196},{"s":"E","x":20.4,"y":195},{"s":"E","x":20.55,"y":191},{"s":"E","x":20.7,"y":190},{"s":"E","x":20.85,"y":185},{"s":"E","x":21.0,"y":182},{"s":"E","x":21.2,"y":180},{"s":"E","x":21.35,"y":176},{"s":"E","x":21.5,"y":177},{"s":"E","x":21.7,"y":173},{"s":"E","x":21.85,"y":174},{"s":"E","x":22.05,"y":170},{"s":"E","x":22.25,"y":171},{"s":"E","x":22.45,"y":167},{"s":"E","x":22.65,"y":168},{"s":"E","x":22.85,"y":164},{"s":"E","x":23.1,"y":166},{"s":"E","x":23.3,"y":163},{"s":"E","x":23.55,"y":165},{"s":"E","x":23.75,"y":162},{"s":"E","x":24.0,"y":165},{"s":"E","x":24.2,"y":161},{"s":"E","x":24.45,"y":163},{"s":"E","x":24.65,"y":158},{"s":"E","x":24.9,"y":160},{"s":"E","x":25.1,"y":157},{"s":"E","x":25.35,"y":158},{"s":"E","x":25.55,"y":154},{"s":"E","x":25.8,"y":155},{"s":"E","x":26.0,"y":151},{"s":"E","x":26.25,"y":153},{"s":"E","x":26.45,"y":149},{"s":"E","x":26.7,"y":150},{"s":"E","x":26.9,"y":147},{"s":"E","x":27.15,"y":148},{"s":"E","x":27.35,"y":144},{"s":"E","x":27.6,"y":146},{"s":"E","x":27.8,"y":143},{"s":"E","x":28.05,"y":145},{"s":"E","x":28.3,"y":141},{"s":"E","x":28.5,"y":143},{"s":"E","x":28.75,"y":140},{"s":"E","x":29.0,"y":142},{"s":"E","x":29.2,"y":139},{"s":"E","x":29.45,"y":141},{"s":"E","x":29.7,"y":138},{"s":"E","x":29.9,"y":140},{"s":"E","x":30.15,"y":137},{"s":"E","x":30.4,"y":140},{"s":"E","x":30.6,"y":137},{"s":"E","x":30.85,"y":139},{"s":"E","x":31.1,"y":136},{"s":"E","x":31.3,"y":138},{"s":"E","x":31.55,"y":135},{"s":"E","x":31.8,"y":139},{"s":"E","x":32.0,"y":136},{"s":"E","x":32.25,"y":141},{"s":"E","x":32.45,"y":135},{"s":"E","x":32.7,"y":137},{"s":"E","x":32.9,"y":134},{"s":"E","x":33.15,"y":136},{"s":"E","x":33.4,"y":133},{"s":"E","x":33.6,"y":135},{"s":"E","x":33.85,"y":132},{"s":"E","x":34.1,"y":134},{"s":"E","x":34.3,"y":131},{"s":"E","x":34.55,"y":133},{"s":"E","x":34.8,"y":130},{"s":"E","x":35.0,"y":132},{"s":"E","x":35.25,"y":129},{"s":"E","x":35.5,"y":131},{"s":"E","x":35.7,"y":128},{"s":"E","x":35.95,"y":131},{"s":"E","x":36.2,"y":128},{"s":"E","x":36.4,"y":130},{"s":"E","x":36.65,"y":127},{"s":"E","x":36.9,"y":129},{"s":"E","x":37.1,"y":126},{"s":"E","x":37.35,"y":129},{"s":"E","x":37.6,"y":126},{"s":"E","x":37.8,"y":128},{"s":"E","x":38.05,"y":124},{"s":"E","x":38.3,"y":127},{"s":"E","x":38.5,"y":124},{"s":"E","x":38.75,"y":126},{"s":"E","x":39.0,"y":123},{"s":"E","x":39.2,"y":126},{"s":"E","x":39.45,"y":123},{"s":"E","x":39.7,"y":125},{"s":"E","x":39.9,"y":122},{"s":"E","x":40.15,"y":124},{"s":"E","x":40.4,"y":121},{"s":"E","x":40.6,"y":124},{"s":"E","x":40.85,"y":121},{"s":"E","x":41.1,"y":123},{"s":"E","x":41.3,"y":120},{"s":"E","x":41.55,"y":123},{"s":"E","x":41.8,"y":120},{"s":"E","x":42.0,"y":122},{"s":"E","x":42.25,"y":119},{"s":"E","x":42.5,"y":122},{"s":"E","x":42.7,"y":119},{"s":"E","x":42.95,"y":121},{"s":"E","x":43.2,"y":118},{"s":"E","x":43.4,"y":121},{"s":"E","x":43.65,"y":118},{"s":"E","x":43.9,"y":120},{"s":"E","x":44.1,"y":117},{"s":"E","x":44.35,"y":120},{"s":"E","x":44.6,"y":117},{"s":"E","x":44.8,"y":119},{"s":"E","x":45.05,"y":117},{"s":"E","x":45.3,"y":119},{"s":"E","x":45.5,"y":116},{"s":"E","x":45.75,"y":118},{"s":"E","x":46.0,"y":115},{"s":"E","x":46.2,"y":117},{"s":"E","x":46.45,"y":114},{"s":"E","x":46.7,"y":117},{"s":"E","x":46.9,"y":114},{"s":"E","x":47.15,"y":116},{"s":"E","x":47.4,"y":113},{"s":"E","x":47.6,"y":115},{"s":"E","x":47.85,"y":112},{"s":"E","x":48.1,"y":115},{"s":"E","x":48.3,"y":112},{"s":"E","x":48.55,"y":114},{"s":"E","x":48.8,"y":111},{"s":"E","x":49.0,"y":114},{"s":"E","x":49.25,"y":111},{"s":"E","x":49.5,"y":113},{"s":"E","x":49.7,"y":110},{"s":"E","x":49.95,"y":112},{"s":"E","x":50.2,"y":110},{"s":"E","x":50.4,"y":112},{"s":"E","x":50.65,"y":109},{"s":"E","x":50.9,"y":112},{"s":"E","x":51.1,"y":109},{"s":"E","x":51.35,"y":111},{"s":"E","x":51.6,"y":108},{"s":"E","x":51.8,"y":111},{"s":"E","x":52.05,"y":108},{"s":"E","x":52.3,"y":110},{"s":"E","x":52.5,"y":107},{"s":"E","x":52.75,"y":110},{"s":"E","x":53.0,"y":107},{"s":"E","x":53.2,"y":109},{"s":"E","x":53.45,"y":106},{"s":"E","x":53.7,"y":109},{"s":"E","x":53.9,"y":107},{"s":"E","x":54.15,"y":109},{"s":"E","x":54.4,"y":106},{"s":"E","x":54.6,"y":108},{"s":"E","x":54.85,"y":105},{"s":"E","x":55.1,"y":108},{"s":"E","x":55.3,"y":105},{"s":"E","x":55.55,"y":107},{"s":"E","x":55.8,"y":105},{"s":"E","x":56.0,"y":107},{"s":"E","x":56.25,"y":104},{"s":"E","x":56.5,"y":107},{"s":"E","x":56.7,"y":104},{"s":"E","x":56.95,"y":106},{"s":"E","x":57.2,"y":104},{"s":"E","x":57.4,"y":106},{"s":"E","x":57.65,"y":103},{"s":"E","x":57.9,"y":106},{"s":"E","x":58.1,"y":103},{"s":"E","x":58.35,"y":105},{"s":"E","x":58.6,"y":103},{"s":"E","x":58.8,"y":105},{"s":"E","x":59.05,"y":102},{"s":"E","x":59.3,"y":105},{"s":"E","x":59.5,"y":103},{"s":"E","x":59.75,"y":105},{"s":"E","x":60.05,"y":104},
{"s":"S","x":2.3,"y":188},{"s":"S","x":2.52,"y":55},{"s":"S","x":2.65,"y":50},{"s":"S","x":2.8,"y":47},{"s":"S","x":2.95,"y":44},{"s":"S","x":3.15,"y":42},{"s":"S","x":3.3,"y":39},{"s":"S","x":3.5,"y":41},{"s":"S","x":3.65,"y":37},{"s":"S","x":3.85,"y":38},{"s":"S","x":4.05,"y":35},{"s":"S","x":4.2,"y":33},{"s":"S","x":4.4,"y":36},{"s":"S","x":4.55,"y":33},{"s":"S","x":4.75,"y":34},{"s":"S","x":4.95,"y":31},{"s":"S","x":5.1,"y":33},{"s":"S","x":5.3,"y":30},{"s":"S","x":5.5,"y":32},{"s":"S","x":5.65,"y":29},{"s":"S","x":5.85,"y":32},{"s":"S","x":6.05,"y":30},{"s":"S","x":6.2,"y":32},{"s":"S","x":6.4,"y":29},{"s":"S","x":6.55,"y":27},{"s":"S","x":6.75,"y":31},{"s":"S","x":6.9,"y":32},{"s":"S","x":7.1,"y":35},{"s":"S","x":7.3,"y":34},{"s":"S","x":7.45,"y":38},{"s":"S","x":7.65,"y":37},{"s":"S","x":7.8,"y":40},{"s":"S","x":8.0,"y":39},{"s":"S","x":8.2,"y":43},{"s":"S","x":8.35,"y":42},{"s":"S","x":8.55,"y":45},{"s":"S","x":8.7,"y":44},{"s":"S","x":8.9,"y":47},{"s":"S","x":9.1,"y":46},{"s":"S","x":9.25,"y":50},{"s":"S","x":9.45,"y":49},{"s":"S","x":9.6,"y":52},{"s":"S","x":9.8,"y":51},{"s":"S","x":10.0,"y":54},{"s":"S","x":10.15,"y":53},{"s":"S","x":10.35,"y":56},{"s":"S","x":10.55,"y":54},{"s":"S","x":10.7,"y":57},{"s":"S","x":10.9,"y":55},{"s":"S","x":11.1,"y":58},{"s":"S","x":11.25,"y":56},{"s":"S","x":11.45,"y":59},{"s":"S","x":11.6,"y":56},{"s":"S","x":11.8,"y":58},{"s":"S","x":12.0,"y":55},{"s":"S","x":12.15,"y":57},{"s":"S","x":12.35,"y":54},{"s":"S","x":12.5,"y":56},{"s":"S","x":12.7,"y":53},{"s":"S","x":12.9,"y":55},{"s":"S","x":13.05,"y":51},{"s":"S","x":13.25,"y":53},{"s":"S","x":13.4,"y":50},{"s":"S","x":13.6,"y":52},{"s":"S","x":13.8,"y":49},{"s":"S","x":13.95,"y":51},{"s":"S","x":14.15,"y":48},{"s":"S","x":14.35,"y":51},{"s":"S","x":14.5,"y":49},{"s":"S","x":14.7,"y":53},{"s":"S","x":14.85,"y":51},{"s":"S","x":15.05,"y":55},{"s":"S","x":15.25,"y":57},{"s":"S","x":15.4,"y":60},{"s":"S","x":15.6,"y":62},{"s":"S","x":15.75,"y":64},{"s":"S","x":15.95,"y":66},{"s":"S","x":16.1,"y":67},{"s":"S","x":16.3,"y":70},{"s":"S","x":16.5,"y":73},{"s":"S","x":16.65,"y":77},{"s":"S","x":16.85,"y":82},{"s":"S","x":17.0,"y":86},{"s":"S","x":17.15,"y":92},{"s":"S","x":17.3,"y":95},{"s":"S","x":17.45,"y":101},{"s":"S","x":17.6,"y":105},{"s":"S","x":17.75,"y":109},{"s":"S","x":17.9,"y":112},{"s":"S","x":18.05,"y":116},{"s":"S","x":18.2,"y":118},{"s":"S","x":18.35,"y":123},{"s":"S","x":18.5,"y":120},{"s":"S","x":18.65,"y":126},{"s":"S","x":18.8,"y":122},{"s":"S","x":18.95,"y":125},{"s":"S","x":19.1,"y":120},{"s":"S","x":19.25,"y":123},{"s":"S","x":19.4,"y":117},{"s":"S","x":19.55,"y":117},{"s":"S","x":19.7,"y":112},{"s":"S","x":19.85,"y":111},{"s":"S","x":20.0,"y":106},{"s":"S","x":20.15,"y":103},{"s":"S","x":20.3,"y":99},{"s":"S","x":20.45,"y":96},{"s":"S","x":20.6,"y":94},{"s":"S","x":20.75,"y":91},{"s":"S","x":20.9,"y":89},{"s":"S","x":21.05,"y":86},{"s":"S","x":21.2,"y":86},{"s":"S","x":21.4,"y":82},{"s":"S","x":21.55,"y":80},{"s":"S","x":21.75,"y":78},{"s":"S","x":21.9,"y":75},{"s":"S","x":22.1,"y":76},{"s":"S","x":22.3,"y":73},{"s":"S","x":22.5,"y":75},{"s":"S","x":22.7,"y":71},{"s":"S","x":22.9,"y":73},{"s":"S","x":23.1,"y":71},{"s":"S","x":23.35,"y":74},{"s":"S","x":23.55,"y":70},{"s":"S","x":23.8,"y":73},{"s":"S","x":24.0,"y":71},{"s":"S","x":24.25,"y":72},{"s":"S","x":24.45,"y":68},{"s":"S","x":24.7,"y":70},{"s":"S","x":24.9,"y":66},{"s":"S","x":25.15,"y":67},{"s":"S","x":25.35,"y":64},{"s":"S","x":25.6,"y":65},{"s":"S","x":25.8,"y":61},{"s":"S","x":26.05,"y":62},{"s":"S","x":26.25,"y":58},{"s":"S","x":26.5,"y":59},{"s":"S","x":26.7,"y":56},{"s":"S","x":26.95,"y":57},{"s":"S","x":27.15,"y":53},{"s":"S","x":27.4,"y":54},{"s":"S","x":27.6,"y":51},{"s":"S","x":27.85,"y":53},{"s":"S","x":28.1,"y":49},{"s":"S","x":28.3,"y":51},{"s":"S","x":28.55,"y":48},{"s":"S","x":28.8,"y":50},{"s":"S","x":29.0,"y":46},{"s":"S","x":29.25,"y":49},{"s":"S","x":29.5,"y":46},{"s":"S","x":29.7,"y":48},{"s":"S","x":29.95,"y":45},{"s":"S","x":30.2,"y":47},{"s":"S","x":30.4,"y":44},{"s":"S","x":30.65,"y":46},{"s":"S","x":30.9,"y":43},{"s":"S","x":31.1,"y":46},{"s":"S","x":31.35,"y":43},{"s":"S","x":31.6,"y":45},{"s":"S","x":31.8,"y":42},{"s":"S","x":32.05,"y":44},{"s":"S","x":32.3,"y":41},{"s":"S","x":32.5,"y":43},{"s":"S","x":32.75,"y":40},{"s":"S","x":33.0,"y":42},{"s":"S","x":33.2,"y":39},{"s":"S","x":33.45,"y":41},{"s":"S","x":33.7,"y":38},{"s":"S","x":33.9,"y":40},{"s":"S","x":34.15,"y":37},{"s":"S","x":34.4,"y":39},{"s":"S","x":34.6,"y":36},{"s":"S","x":34.85,"y":38},{"s":"S","x":35.1,"y":35},{"s":"S","x":35.3,"y":37},{"s":"S","x":35.55,"y":34},{"s":"S","x":35.8,"y":37},{"s":"S","x":36.0,"y":34},{"s":"S","x":36.25,"y":36},{"s":"S","x":36.5,"y":33},{"s":"S","x":36.7,"y":35},{"s":"S","x":36.95,"y":33},{"s":"S","x":37.2,"y":35},{"s":"S","x":37.4,"y":32},{"s":"S","x":37.65,"y":34},{"s":"S","x":37.9,"y":32},{"s":"S","x":38.1,"y":34},{"s":"S","x":38.35,"y":31},{"s":"S","x":38.6,"y":33},{"s":"S","x":38.8,"y":31},{"s":"S","x":39.05,"y":33},{"s":"S","x":39.3,"y":30},{"s":"S","x":39.5,"y":32},{"s":"S","x":39.75,"y":29},{"s":"S","x":40.0,"y":31},{"s":"S","x":40.2,"y":28},{"s":"S","x":40.45,"y":30},{"s":"S","x":40.7,"y":27},{"s":"S","x":40.9,"y":30},{"s":"S","x":41.15,"y":27},{"s":"S","x":41.4,"y":29},{"s":"S","x":41.6,"y":27},{"s":"S","x":41.85,"y":29},{"s":"S","x":42.1,"y":26},{"s":"S","x":42.3,"y":29},{"s":"S","x":42.55,"y":26},{"s":"S","x":42.8,"y":28},{"s":"S","x":43.0,"y":26},{"s":"S","x":43.25,"y":28},{"s":"S","x":43.5,"y":25},{"s":"S","x":43.7,"y":28},{"s":"S","x":43.95,"y":25},{"s":"S","x":44.2,"y":27},{"s":"S","x":44.4,"y":24},{"s":"S","x":44.65,"y":27},{"s":"S","x":44.9,"y":24},{"s":"S","x":45.1,"y":26},{"s":"S","x":45.35,"y":24},{"s":"S","x":45.6,"y":26},{"s":"S","x":45.8,"y":23},{"s":"S","x":46.05,"y":26},{"s":"S","x":46.3,"y":23},{"s":"S","x":46.5,"y":25},{"s":"S","x":46.75,"y":22},{"s":"S","x":47.0,"y":25},{"s":"S","x":47.2,"y":22},{"s":"S","x":47.45,"y":24},{"s":"S","x":47.7,"y":21},{"s":"S","x":47.9,"y":24},{"s":"S","x":48.15,"y":21},{"s":"S","x":48.4,"y":23},{"s":"S","x":48.6,"y":20},{"s":"S","x":48.85,"y":23},{"s":"S","x":49.1,"y":20},{"s":"S","x":49.3,"y":22},{"s":"S","x":49.55,"y":19},{"s":"S","x":49.8,"y":22},{"s":"S","x":50.0,"y":19},{"s":"S","x":50.25,"y":21},{"s":"S","x":50.5,"y":18},{"s":"S","x":50.7,"y":21},{"s":"S","x":50.95,"y":18},{"s":"S","x":51.2,"y":20},{"s":"S","x":51.4,"y":17},{"s":"S","x":51.65,"y":20},{"s":"S","x":51.9,"y":17},{"s":"S","x":52.1,"y":19},{"s":"S","x":52.35,"y":16},{"s":"S","x":52.6,"y":19},{"s":"S","x":52.8,"y":16},{"s":"S","x":53.05,"y":18},{"s":"S","x":53.3,"y":16},{"s":"S","x":53.5,"y":18},{"s":"S","x":53.75,"y":15},{"s":"S","x":54.0,"y":18},{"s":"S","x":54.2,"y":15},{"s":"S","x":54.45,"y":17},{"s":"S","x":54.7,"y":14},{"s":"S","x":54.9,"y":17},{"s":"S","x":55.15,"y":14},{"s":"S","x":55.4,"y":16},{"s":"S","x":55.6,"y":13},{"s":"S","x":55.85,"y":15},{"s":"S","x":56.1,"y":12},{"s":"S","x":56.3,"y":10},{"s":"S","x":56.55,"y":14},{"s":"S","x":56.8,"y":12},{"s":"S","x":57.0,"y":15},{"s":"S","x":57.25,"y":13},{"s":"S","x":57.5,"y":16},{"s":"S","x":57.7,"y":13},{"s":"S","x":57.95,"y":16},{"s":"S","x":58.2,"y":14},{"s":"S","x":58.4,"y":16},{"s":"S","x":58.65,"y":13},{"s":"S","x":58.9,"y":16},{"s":"S","x":59.1,"y":14},{"s":"S","x":59.35,"y":16},{"s":"S","x":59.6,"y":13},{"s":"S","x":59.8,"y":16},{"s":"S","x":60.05,"y":15}
]
},
"layer": [
{
"data": {"name": "traces"},
"mark": {"type": "line", "color": "black", "strokeWidth": 1.4, "clip": true},
"encoding": {
"x": {"field": "x", "type": "quantitative",
"scale": {"domain": [0, 65], "nice": false, "zero": false},
"axis": {
"values": [0,5,10,15,20,25,30,35,40,45,50,55,60],
"labelExpr": "datum.value % 10 === 0 ? datum.label : ''",
"tickSize": {"condition": {"test": "datum.value % 10 === 0", "value": 19}, "value": 10},
"tickWidth": 3, "tickColor": "black",
"domainColor": "black", "domainWidth": 3,
"labelFont": "Liberation Sans", "labelFontSize": 35, "labelFontWeight": "bold", "labelColor": "black",
"labelPadding": 15, "labelFlush": false, "labelOverlap": false,
"title": "θ", "titleFont": "Liberation Serif", "titleFontSize": 40, "titleFontWeight": "normal", "titleColor": "black",
"titleX": 637, "titleY": 112, "titleAlign": "center", "titleBaseline": "middle"
}},
"y": {"field": "y", "type": "quantitative",
"scale": {"domain": [0, 603], "nice": false, "zero": false},
"axis": {
"ticks": false, "labels": false,
"domainColor": "black", "domainWidth": 3,
"title": "Intensidad", "titleFont": "Liberation Sans", "titleFontSize": 47, "titleFontWeight": "normal", "titleColor": "black",
"titleAngle": -90, "titleX": -56, "titleY": 283, "titleAlign": "center", "titleBaseline": "middle"
}},
"detail": {"field": "s", "type": "nominal"}
}
},
{
"data": {"name": "labels"},
"mark": {"type": "text", "align": "left", "baseline": "alphabetic", "font": "Liberation Sans", "fontSize": 31, "color": "black"},
"encoding": {
"x": {"field": "x", "type": "quantitative"},
"y": {"field": "y", "type": "quantitative"},
"text": {"field": "label", "type": "nominal"}
}
}
]
}
